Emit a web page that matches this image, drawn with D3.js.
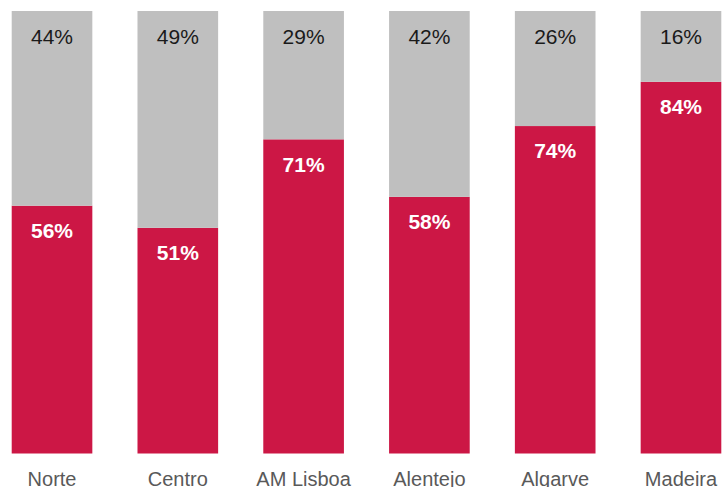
<!DOCTYPE html>
<html>
<head>
<meta charset="utf-8">
<script src="https://cdn.jsdelivr.net/npm/d3@7"></script>
<style>
  html, body { margin: 0; padding: 0; background: #ffffff; }
  svg { display: block; }
</style>
</head>
<body>
<div id="chart"></div>
<script>
// Regions and share of each answer (percent)
const regions = ["Norte", "Centro", "AM Lisboa", "Alentejo", "Algarve", "Madeira"];
const yesShare = [56, 51, 71, 58, 74, 84];
const noShare = [44, 49, 29, 42, 26, 16];

const width = 722, height = 487;
const colorYes = "#CC1745";
const colorNo = "#BFBFBF";
const fontFamily = "'Liberation Sans', Arial, Helvetica, sans-serif";

const svg = d3.select("#chart").append("svg")
  .attr("width", width)
  .attr("height", height);

const x = d3.scaleBand()
  .domain(regions)
  .range([11.7, 721.3])
  .paddingInner(0.359)
  .paddingOuter(0);

const y = d3.scaleLinear()
  .domain([0, 100])
  .range([453.5, 11]);

const rows = regions.map((r, i) => ({ region: r, yes: yesShare[i], no: noShare[i] }));
const stack = d3.stack().keys(["yes", "no"]);
const series = stack(rows);
const colors = { yes: colorYes, no: colorNo };

const layers = svg.selectAll("g.layer")
  .data(series)
  .join("g")
  .attr("class", "layer")
  .attr("fill", d => colors[d.key]);

layers.selectAll("rect")
  .data(d => d)
  .join("rect")
  .attr("x", d => x(d.data.region))
  .attr("width", x.bandwidth())
  .attr("y", d => y(d[1]))
  .attr("height", d => y(d[0]) - y(d[1]));

// Value labels near the top of each segment
series.forEach(s => {
  svg.append("g")
    .selectAll("text")
    .data(s)
    .join("text")
    .attr("x", d => x(d.data.region) + x.bandwidth() / 2)
    .attr("y", d => y(d[1]) + (s.key === "yes" ? 32.4 : 33.3))
    .attr("text-anchor", "middle")
    .attr("font-family", fontFamily)
    .attr("font-size", 21)
    .attr("font-weight", s.key === "yes" ? "bold" : "normal")
    .attr("fill", s.key === "yes" ? "#ffffff" : "#1a1a1a")
    .text(d => d.data[s.key] + "%");
});

// Category axis
const axis = svg.append("g")
  .attr("transform", "translate(0,453.5)")
  .call(d3.axisBottom(x).tickSize(0).tickPadding(32));
axis.select(".domain").remove();
axis.selectAll("text")
  .attr("font-family", fontFamily)
  .attr("font-size", 20)
  .attr("fill", "#595959")
  .attr("dy", 0);
</script>
</body>
</html>
